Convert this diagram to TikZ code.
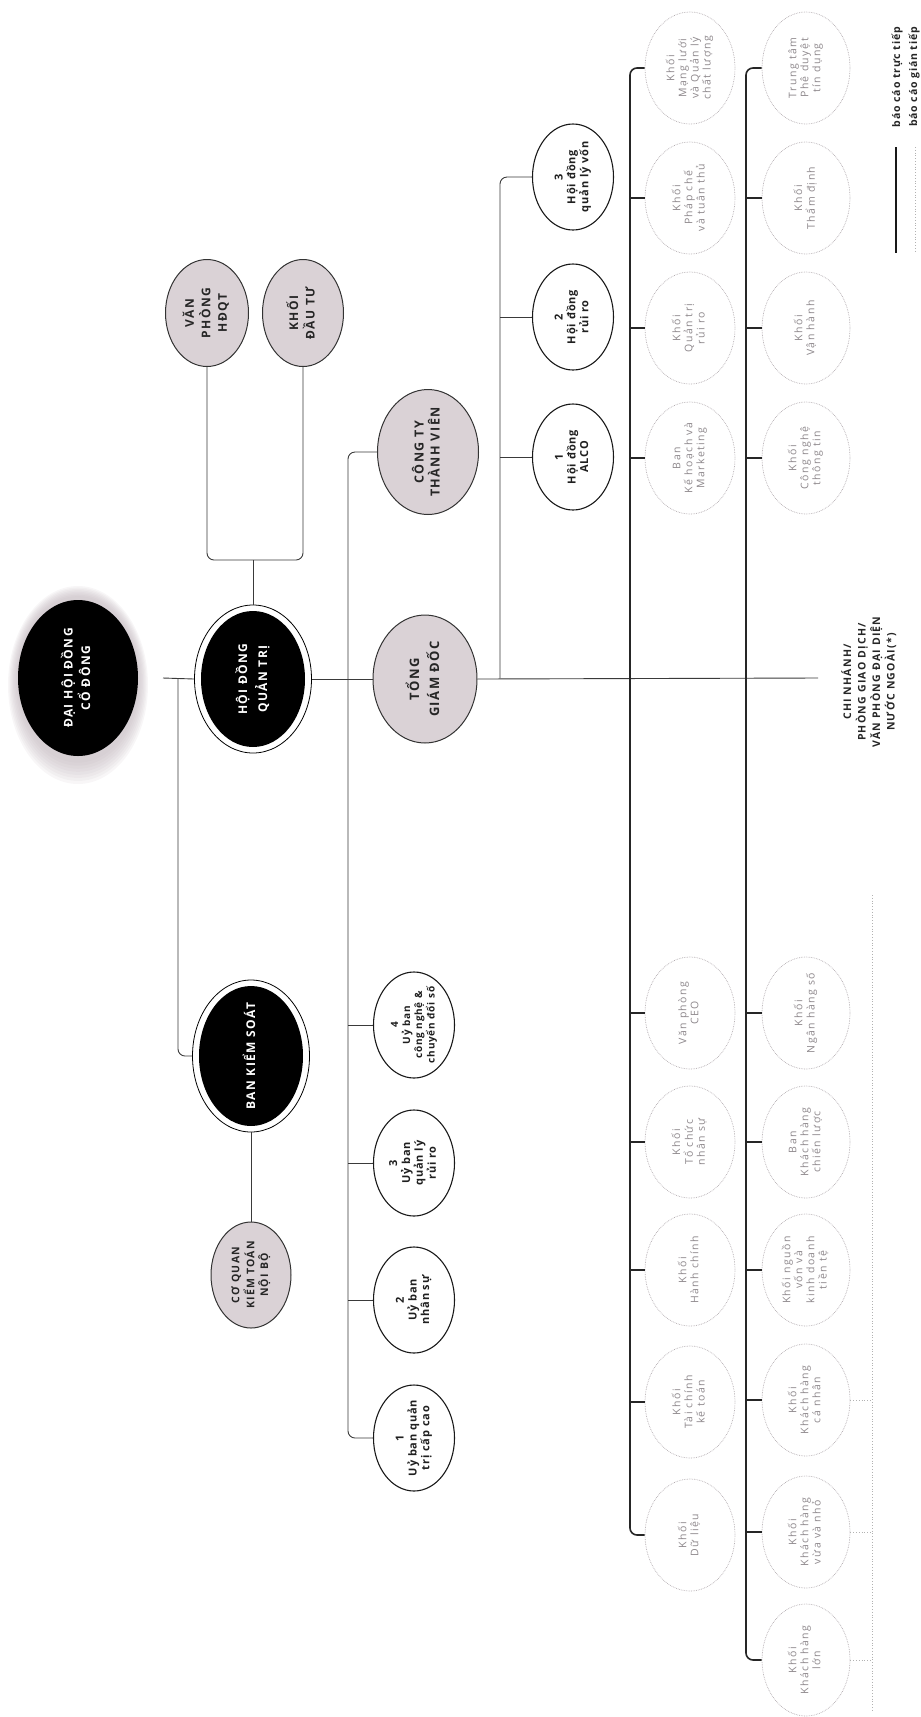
\documentclass[tikz,border=0pt]{standalone}
\usepackage{fontspec}
\setmainfont{Open Sans}
\newfontfamily\capsf{Open Sans}[LetterSpace=12]
\newfontfamily\lowf{Open Sans}[LetterSpace=8]
\newfontfamily\lightf{Open Sans}[LetterSpace=14]
\usepackage{graphicx}
\usetikzlibrary{shapes.geometric}
\definecolor{ngray}{HTML}{DAD2D6}
\definecolor{halo}{HTML}{BDB1B8}
\definecolor{lnc}{HTML}{3A3A3A}
\definecolor{ltxt}{HTML}{8E888C}
\definecolor{ldash}{HTML}{B3ACB0}
\newcommand{\rtx}[1]{\rotatebox{90}{\begin{tabular}{@{}c@{}}#1\end{tabular}}}
\newcommand{\bubl}[6]{\node[#1,#2] (#4) at (#5) {}; \node[#1t,#3] (#4t) at (#4.center) {\rtx{#6}};}
\begin{document}
\begin{tikzpicture}[x=1pt,y=-1pt,
  ln/.style={draw=lnc, line width=0.9pt},
  rl/.style={draw=black!85, line width=1.6pt},
  ind/.style={draw=black!30, dotted, line width=0.8pt},
  wn/.style={ellipse, draw=black!90, line width=1.1pt, fill=white, minimum width=81pt, minimum height=106pt, inner sep=0pt},
  wnt/.style={inner sep=0pt, text=black!88, font=\lowf\bfseries\fontsize{11}{12.5}\selectfont},
  dn/.style={ellipse, draw=ldash, densely dotted, line width=0.7pt, fill=white, minimum width=90pt, minimum height=112pt, inner sep=0pt},
  dnt/.style={inner sep=0pt, text=ltxt, font=\lightf\fontsize{10.5}{12}\selectfont},
  gn/.style={ellipse, draw=black!80, line width=1pt, fill=ngray, inner sep=0pt},
  gnt/.style={inner sep=0pt, text=black!85, font=\capsf\bfseries\fontsize{12}{16.5}\selectfont},
  bo/.style={ellipse, draw=black, line width=0.8pt, fill=white, inner sep=0pt},
  bi/.style={ellipse, fill=black, inner sep=0pt},
  bt/.style={inner sep=0pt, text=white, font=\capsf\bfseries\fontsize{12}{20}\selectfont},
  hl/.style={ellipse, inner sep=0pt, fill=halo, fill opacity=0.11}
]
\useasboundingbox (0,0) rectangle (921,1717);

% root with soft halo
\foreach \i in {0,...,7}
  \node[hl, minimum width={140pt-2.5*\i pt}, minimum height={198pt-4.5*\i pt}] (rh\i) at (78,{685-0.8*\i}) {};
\node[bi, minimum width=120pt, minimum height=156pt] (root) at (78,678) {};
\node[bt, font=\capsf\bfseries\fontsize{12}{17}\selectfont] (roott) at (root.center) {\rtx{ĐẠI HỘI ĐỒNG\\CỔ ĐÔNG}};

% HĐQT
\node[bo, minimum width=117pt, minimum height=148pt] (hdqt) at (253,679) {};
\node[bi, minimum width=104pt, minimum height=136pt] (hdqti) at (hdqt.center) {};
\node[bt] (hdqtt) at (hdqt.center) {\rtx{HỘI ĐỒNG\\QUẢN TRỊ}};

% BKS
\node[bo, minimum width=117pt, minimum height=152pt] (bks) at (251,1056) {};
\node[bi, minimum width=104pt, minimum height=140pt] (bksi) at (bks.center) {};
\node[bt] (bkst) at (bks.center) {\rtx{BAN KIỂM SOÁT}};

% gray nodes
\bubl{gn}{minimum width=83pt, minimum height=107pt}{}{vp}{207,313}{VĂN\\PHÒNG\\HĐQT}
\bubl{gn}{minimum width=81pt, minimum height=107pt}{}{dt}{303,313}{KHỐI\\ĐẦU TƯ}
\bubl{gn}{minimum width=101pt, minimum height=125pt}{font=\capsf\bfseries\fontsize{12.5}{15}\selectfont}{cty}{428,452}{CÔNG TY\\THÀNH VIÊN}
\bubl{gn}{minimum width=104pt, minimum height=128pt}{font=\capsf\bfseries\fontsize{13}{20}\selectfont}{tgd}{425,679}{TỔNG\\GIÁM ĐỐC}
\bubl{gn}{minimum width=80pt, minimum height=106pt}{font=\capsf\bfseries\fontsize{10.5}{13.5}\selectfont}{cq}{251,1275}{CƠ QUAN\\KIỂM TOÁN\\NỘI BỘ}

% white nodes
\bubl{wn}{}{}{hd1}{573,457}{1\\Hội đồng\\ALCO}
\bubl{wn}{}{}{hd2}{573,317}{2\\Hội đồng\\rủi ro}
\bubl{wn}{}{}{hd3}{573,177}{3\\Hội đồng\\quản lý vốn}
\bubl{wn}{}{}{ub1}{414,1438}{1\\Uỷ ban quản\\trị cấp cao}
\bubl{wn}{}{}{ub2}{414,1300}{2\\Uỷ ban\\nhân sự}
\bubl{wn}{}{}{ub3}{414,1163}{3\\Uỷ ban\\quản lý\\rủi ro}
\bubl{wn}{}{font=\lowf\bfseries\fontsize{10}{12}\selectfont}{ub4}{414,1025}{4\\Uỷ ban\\công nghệ \&\\chuyển đổi số}

% dashed row 1
\bubl{dn}{}{}{a1}{690,68}{Khối\\Mạng lưới\\và Quản lý\\chất lượng}
\bubl{dn}{}{}{a2}{690,198}{Khối\\Pháp chế\\và tuân thủ}
\bubl{dn}{}{}{a3}{690,328}{Khối\\Quản trị\\rủi ro}
\bubl{dn}{}{}{a4}{690,458}{Ban\\Kế hoạch và\\Marketing}
\bubl{dn}{}{}{a5}{690,1013}{Văn phòng\\CEO}
\bubl{dn}{}{}{a6}{690,1142}{Khối\\Tổ chức\\nhân sự}
\bubl{dn}{}{}{a7}{690,1270}{Khối\\Hành chính}
\bubl{dn}{}{}{a8}{690,1402}{Khối\\Tài chính\\kế toán}
\bubl{dn}{}{}{a9}{690,1535}{Khối\\Dữ liệu}

% dashed row 2
\bubl{dn}{minimum width=88pt}{}{b1}{806,68}{Trung tâm\\Phê duyệt\\tín dụng}
\bubl{dn}{minimum width=88pt}{}{b2}{806,198}{Khối\\Thẩm định}
\bubl{dn}{minimum width=88pt}{}{b3}{806,328}{Khối\\Vận hành}
\bubl{dn}{minimum width=88pt}{}{b4}{806,458}{Khối\\Công nghệ\\thông tin}
\bubl{dn}{minimum width=88pt}{}{b5}{806,1013}{Khối\\Ngân hàng số}
\bubl{dn}{minimum width=88pt}{}{b6}{806,1142}{Ban\\Khách hàng\\chiến lược}
\bubl{dn}{minimum width=88pt}{}{b7}{806,1270}{Khối nguồn\\vốn và\\kinh doanh\\tiền tệ}
\bubl{dn}{minimum width=88pt}{}{b8}{806,1400}{Khối\\Khách hàng\\cá nhân}
\bubl{dn}{minimum width=88pt}{}{b9}{806,1532}{Khối\\Khách hàng\\vừa và nhỏ}
\bubl{dn}{minimum width=88pt}{}{b10}{806,1660}{Khối\\Khách hàng\\lớn}

% branch label
\node[inner sep=0pt, text=black!85, font=\capsf\bfseries\fontsize{10.5}{14.5}\selectfont] (cn) at (870,682)
  {\rtx{CHI NHÁNH/\\PHÒNG GIAO DỊCH/\\VĂN PHÒNG ĐẠI DIỆN\\NƯỚC NGOÀI(*)}};

% junction coordinates
\coordinate (l0) at (163,678);
\coordinate (j1) at (178,678);
\coordinate (j2) at (348,678);
\coordinate (j3) at (500,678);
\coordinate (j4) at (630,678);
\coordinate (j5) at (746,678);
\coordinate (lend) at (818,678);
\coordinate (bk) at (253,560);

% main spine
\draw[ln] (l0) -- (hdqt.west);
\draw[ln] (hdqt.east) -- (tgd.west);
\draw[ln] (tgd.east) -- (lend);

% BKS branch
\draw[ln, rounded corners=7pt] (j1) |- (bks.west);
\draw[ln] (bks.south) -- (cq.north);

% HĐQT offices
\draw[ln] (hdqt.north) -- (hdqt.north |- bk);
\draw[ln, rounded corners=7pt] (vp.south) |- (bk) -| (dt.south);

% committees and member company
\draw[ln, rounded corners=7pt] (cty.west) -| (j2) |- (ub1.west);
\foreach \n in {ub2,ub3,ub4} \draw[ln] (\n.west -| j2) -- (\n.west);

% councils
\draw[ln, rounded corners=7pt] (hd3.west) -| (j3);
\foreach \n in {hd2,hd1} \draw[ln] (\n.west -| j3) -- (\n.west);

% rows of divisions
\draw[rl, rounded corners=7pt] (a1.west) -| (j4) |- (a9.west);
\foreach \n in {a2,a3,a4,a5,a6,a7,a8} \draw[rl] (\n.west -| j4) -- (\n.west);
\draw[rl, rounded corners=7pt] (b1.west) -| (j5) |- (b10.west);
\foreach \n in {b2,b3,b4,b5,b6,b7,b8,b9} \draw[rl] (\n.west -| j5) -- (\n.west);

% indirect reporting
\coordinate (v1) at (872,895);
\coordinate (v2) at (872,1712);
\draw[ind] (v1) -- (v2);
\foreach \n in {b8,b9,b10} \draw[ind] (\n.east) -- (\n.east -| v1);

% legend
\coordinate (lg1a) at (896,147);
\coordinate (lg1b) at (896,253);
\coordinate (lg2a) at (915,147);
\coordinate (lg2b) at (915,253);
\draw[draw=black!90, line width=1.1pt] (lg1a) -- (lg1b);
\draw[ind] (lg2a) -- (lg2b);
\node[inner sep=0pt, text=black!85, font=\lowf\bfseries\fontsize{10.5}{12}\selectfont] (lgt1) at (897,77) {\rotatebox{90}{báo cáo trực tiếp}};
\node[inner sep=0pt, text=black!85, font=\lowf\bfseries\fontsize{10.5}{12}\selectfont] (lgt2) at (914,77) {\rotatebox{90}{báo cáo gián tiếp}};
\end{tikzpicture}
\end{document}
